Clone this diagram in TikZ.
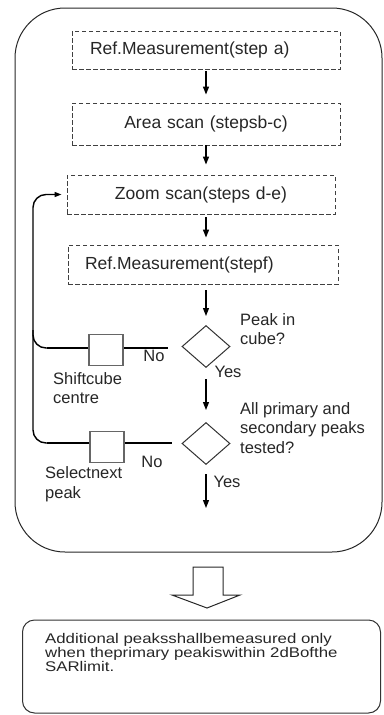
\documentclass[tikz,border=0pt]{standalone}
\usepackage{fontspec}
\setmainfont{Liberation Sans}
\newfontfamily\widefont[FakeStretch=1.2]{Liberation Sans}
\usetikzlibrary{arrows.meta,shapes.geometric,calc}
\begin{document}
\begin{tikzpicture}[x=1pt,y=-1pt,
  txt/.style={text=black!85},
  dbox/.style={draw=black!75, dash pattern=on 4.5pt off 2.5pt, line width=0.9pt,
    inner ysep=0pt, txt, font=\fontsize{17.5}{20}\selectfont},
  dia/.style={draw=black!80, line width=1pt, shape=diamond, inner sep=0pt,
    minimum width=48pt, minimum height=42pt},
  arr/.style={line width=1.3pt, -{Triangle[length=8pt,width=6pt]}},
  noline/.style={line width=2.8pt},
  loopl/.style={line width=1.4pt, rounded corners=13pt},
  sq/.style={draw=black!60, line width=1.1pt, fill=white, inner sep=0pt,
    minimum width=34pt, minimum height=31pt},
  lbl/.style={txt, font=\fontsize{16.5}{19.5}\selectfont, inner sep=0pt, align=left}
]
\useasboundingbox (0,0) rectangle (383,715);

% outer frame
\node[draw=black!85, line width=1pt, rounded corners=50pt, minimum width=367pt,
  minimum height=544pt, inner sep=0pt] (frame) at (198.5,280) {};

% process boxes
\node[dbox, text width=232pt, inner xsep=18pt, minimum height=38pt, align=left]
  (b1) at (206,50) {Ref.Measurement(step a)};
\node[dbox, text width=236pt, inner xsep=16pt, minimum height=42pt, align=center]
  (b2) at (206,124) {Area scan (stepsb-c)};
\node[dbox, text width=236pt, inner xsep=16pt, minimum height=39pt, align=center]
  (b3) at (201,194.5) {Zoom scan(steps d-e)};
\node[dbox, text width=236pt, inner xsep=17pt, minimum height=39pt, align=left]
  (b4) at (203,264.5) {Ref.Measurement(stepf)};

% decisions
\node[dia] (d1) at (206,346.5) {};
\node[dia] (d2) at (206,443.5) {};
\coordinate (endp) at (206,508);

% vertical arrows
\draw[arr, shorten <=2pt, shorten >=8pt] (b1.south -| d1) -- (b2.north -| d1);
\draw[arr, shorten >=10pt] (b2.south -| d1) -- (b3.north -| d1);
\draw[arr, shorten <=3pt, shorten >=7pt] (b3.south -| d1) -- (b4.north -| d1);
\draw[arr, shorten <=6pt, shorten >=9pt] (b4.south -| d1) -- (d1.north);
\draw[arr, shorten <=11pt, shorten >=12pt] (d1.south) -- (d2.north);
\draw[arr, shorten <=9pt] (d2.south) -- (endp);

% "No" branches
\coordinate (n1a) at (47,348);
\coordinate (n2a) at (47,443);
\draw[loopl, -{Triangle[length=7pt,width=5pt]}, shorten >=5pt]
  (n1a) -- (33,348) |- (b3.west);
\draw[loopl] (n2a) -- (33,443) -- (33,330);
\draw[noline, shorten <=14pt] (d1.west |- n1a) -- (n1a);
\draw[noline, shorten <=10pt] (d2.west |- n2a) -- (n2a);
\node[sq] (s1) at (106,350) {};
\node[sq] (s2) at (107,447) {};

% labels
\node[lbl, anchor=west] (q1) at (240,329) {Peak in\\cube?};
\node[lbl, anchor=west] (q2) at (240,428) {All primary and\\secondary peaks\\tested?};
\node[lbl] (no1) at (154,356) {No};
\node[lbl] (yes1) at (228,372) {Yes};
\node[lbl] (no2) at (152,462) {No};
\node[lbl] (yes2) at (227,482) {Yes};
\node[lbl, anchor=west] (l1) at (53,388) {Shiftcube\\centre};
\node[lbl, anchor=west] (l2) at (45,484) {Selectnext\\peak};

% hollow arrow
\draw[line width=1pt, draw=black!85, line join=miter]
  (193,567) -- (223,567) -- (223,595) -- (240,595) -- (207,608)
  -- (172,595) -- (193,595) -- cycle;

% note box
\node[draw=black!80, line width=1pt, rounded corners=12pt, minimum width=358pt,
  minimum height=93pt, inner sep=0pt] (note) at (201.5,666.5) {};
\node[txt, anchor=north west, inner sep=0pt, align=left,
  font=\widefont\fontsize{14}{14}\selectfont] (notetxt) at (45,633)
  {Additional peaksshallbemeasured only\\when theprimary peakiswithin 2dBofthe\\SARlimit.};
\end{tikzpicture}
\end{document}
